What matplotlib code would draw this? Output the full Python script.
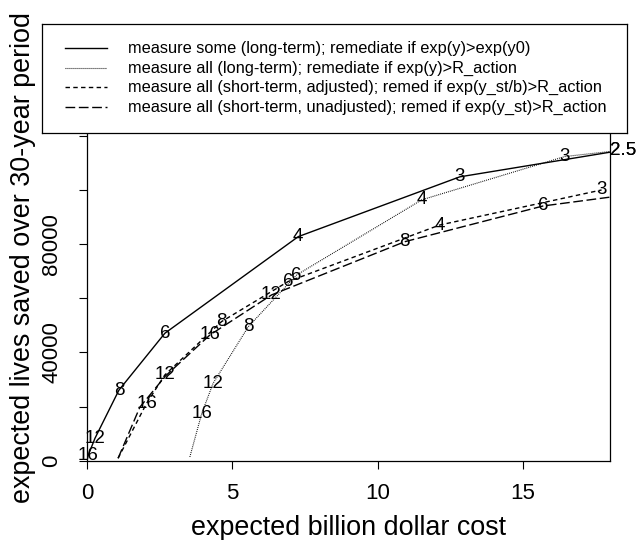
import matplotlib
matplotlib.use("Agg")
import matplotlib.pyplot as plt
from matplotlib.lines import Line2D

plt.rcParams['font.family'] = ['Liberation Sans', 'DejaVu Sans']

# ---------------- data ----------------
# measure some (long-term); remediate if exp(y)>exp(y0)   -- solid
some_cost = [0.0, 0.045, 0.275, 1.10, 2.68, 7.27, 12.83, 18.45]
some_lives = [0, 2100, 8300, 26100, 47100, 82800, 104900, 114800]
some_labels = ["", "16", "12", "8", "6", "4", "3", "2.5"]

# measure all (long-term); remediate if exp(y)>R_action  -- dotted
all_lt_cost = [3.54, 3.95, 4.34, 5.55, 7.21, 11.52, 16.44, 18.45]
all_lt_lives = [1400, 17500, 28600, 49500, 68600, 96400, 112400, 114800]
all_lt_labels = ["", "16", "12", "8", "6", "4", "3", "2.5"]

# measure all (short-term, adjusted)  -- short dashes
adj_cost = [1.07, 2.05, 2.68, 4.63, 6.92, 12.14, 17.71]
adj_lives = [900, 21200, 31700, 51400, 66200, 87100, 100050]
adj_labels = ["", "16", "12", "8", "6", "4", "3"]

# measure all (short-term, unadjusted)  -- long dashes
unadj_cost = [1.07, 1.82, 2.70, 4.23, 6.35, 10.94, 15.70, 18.0]
unadj_lives = [900, 19800, 31300, 46460, 61250, 80940, 94140, 97400]
unadj_labels = ["", "", "", "16", "12", "8", "6", ""]

legend_labels = [
    "measure some (long-term); remediate if exp(y)>exp(y0)",
    "measure all (long-term); remediate if exp(y)>R_action",
    "measure all (short-term, adjusted); remed if exp(y_st/b)>R_action",
    "measure all (short-term, unadjusted); remed if exp(y_st)>R_action",
]
x_ticks = [0, 5, 10, 15]
y_ticks = [0, 20000, 40000, 60000, 80000, 100000, 120000, 140000]
y_ticklabels = ["0", "", "40000", "", "80000", "", "", ""]

# ---------------- figure ----------------
W, H = 641, 540
fig = plt.figure(figsize=(W / 100, H / 100), dpi=100)
ax_l, ax_r, ax_t, ax_b = 87, 610, 54.8, 460.7
ax = fig.add_axes([ax_l / W, 1 - ax_b / H, (ax_r - ax_l) / W, (ax_b - ax_t) / H])

styles = [
    dict(linestyle="-", lw=1.0),
    dict(linestyle=(0, (0.8, 1.0)), lw=0.8),
    dict(linestyle=(0, (3.2, 2.4)), lw=1.0),
    dict(linestyle=(0, (7.0, 2.6)), lw=1.0),
]
series = [
    (some_cost, some_lives, some_labels),
    (all_lt_cost, all_lt_lives, all_lt_labels),
    (adj_cost, adj_lives, adj_labels),
    (unadj_cost, unadj_lives, unadj_labels),
]
for (xs, ys, labs), st in zip(series, styles):
    ax.plot(xs, ys, color="black", **st)
    for xv, yv, lb in zip(xs, ys, labs):
        if lb:
            ax.text(xv, yv, lb, ha="center", va="center", fontsize=13.5,
                    color="black", clip_on=False, zorder=4)

ax.set_xlim(0, 18)
ax.set_ylim(0, 150000)
ax.set_xticks(x_ticks)
ax.set_xticklabels([str(t) for t in x_ticks])
ax.set_yticks(y_ticks)
ax.set_yticklabels(y_ticklabels, rotation=90, va="center")
ax.tick_params(axis="both", direction="out", length=6, width=0.8,
               labelsize=16, color="black")
ax.tick_params(axis="x", pad=10)
ax.tick_params(axis="y", pad=12)
for sp in ax.spines.values():
    sp.set_linewidth(0.9)

ax.set_xlabel("expected billion dollar cost", fontsize=19.4)
ax.set_ylabel("expected lives saved over 30-year period", fontsize=19.4)
ax.xaxis.set_label_coords(0.5, (ax_b - 528) / (ax_b - ax_t))
ax.xaxis.label.set_va("center")
ax.yaxis.set_label_coords((23 - ax_l) / (ax_r - ax_l), 0.5)
ax.yaxis.label.set_va("center")

# ---------------- legend box (partly outside the plot) ----------------
lg_l, lg_r, lg_t, lg_b = 42, 627, 24, 133
lax = fig.add_axes([lg_l / W, 1 - lg_b / H, (lg_r - lg_l) / W, (lg_b - lg_t) / H])
lax.set_zorder(10)
lax.set_facecolor("white")
lax.set_xlim(lg_l, lg_r)
lax.set_ylim(lg_b, lg_t)
lax.set_xticks([])
lax.set_yticks([])
for sp in lax.spines.values():
    sp.set_linewidth(0.9)
rows = [48.5, 68.0, 87.5, 107.0]
for ry, lab, st in zip(rows, legend_labels, styles):
    lax.add_line(Line2D([65, 107], [ry, ry], color="black", **st))
    lax.text(128, ry, lab, ha="left", va="center", fontsize=11.8)

fig.savefig("out.png", dpi=100)
